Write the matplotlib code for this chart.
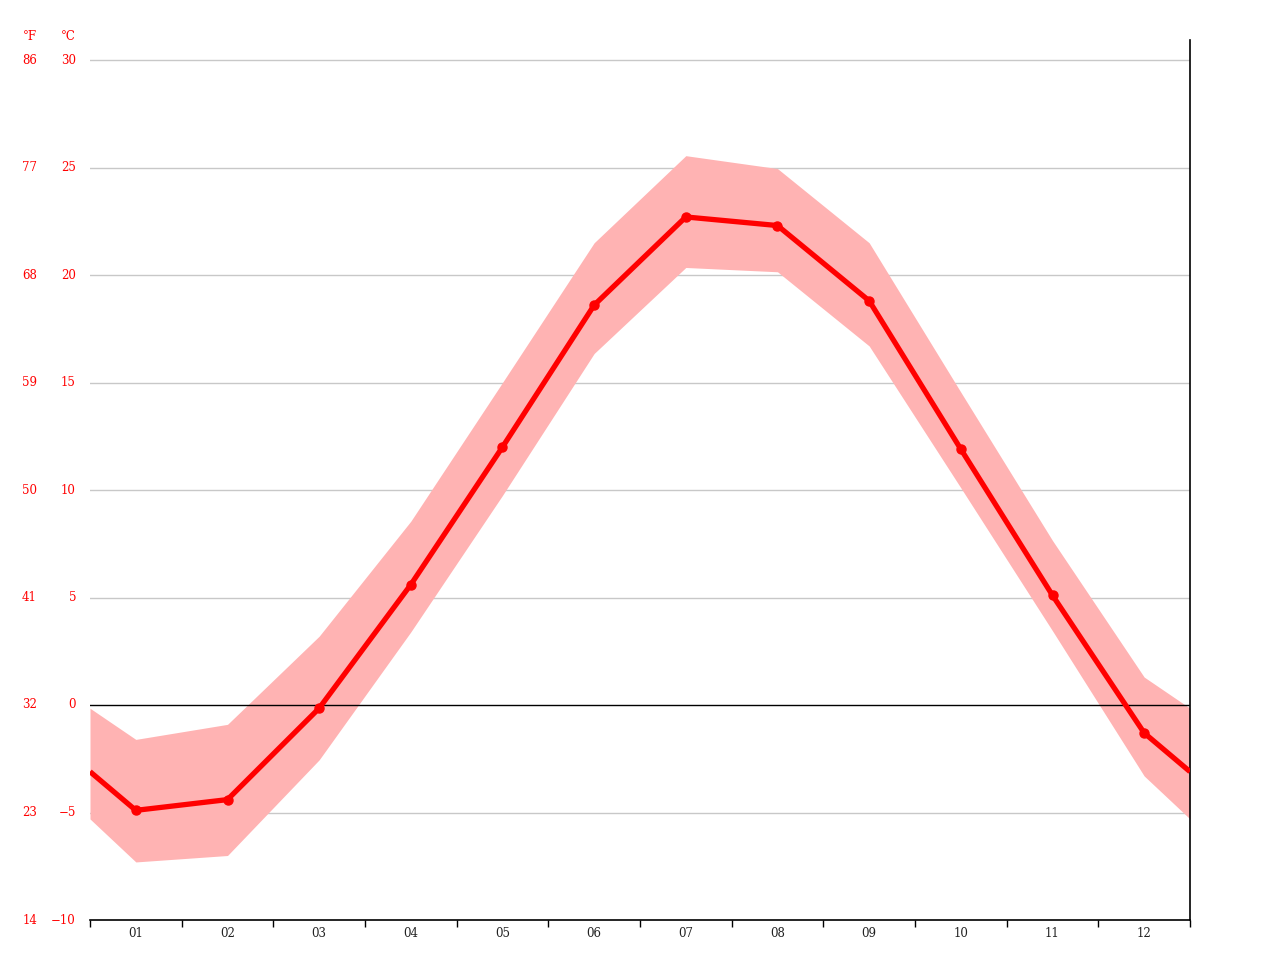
import matplotlib.pyplot as plt
from matplotlib.transforms import blended_transform_factory

months = ['01', '02', '03', '04', '05', '06', '07', '08', '09', '10', '11', '12']
t_mean = [-4.9, -4.4, -0.15, 5.6, 12.0, 18.6, 22.7, 22.3, 18.8, 11.9, 5.1, -1.3]
t_max = [-1.6, -0.9, 3.2, 8.55, 15.0, 21.5, 25.55, 24.95, 21.5, 14.55, 7.65, 1.3]
t_min = [-7.3, -7.0, -2.55, 3.4, 9.75, 16.35, 20.35, 20.15, 16.7, 10.1, 3.45, -3.3]
# values at the year edges (between Dec and Jan)
edge_mean = -3.1
edge_max = -0.15
edge_min = -5.3

c_ticks = [-10, -5, 0, 5, 10, 15, 20, 25, 30]
f_ticks = [14, 23, 32, 41, 50, 59, 68, 77, 86]

plt.rcParams['font.family'] = ['DejaVu Serif']

fig = plt.figure(figsize=(12.8, 9.6), dpi=100)
ax = fig.add_axes([90 / 1280, 40 / 960, 1100 / 1280, 880 / 960])

x = [0.5] + list(range(1, 13)) + [12.5]
ymean = [edge_mean] + t_mean + [edge_mean]
ymax = [edge_max] + t_max + [edge_max]
ymin = [edge_min] + t_min + [edge_min]

ax.set_xlim(0.5, 12.5)
ax.set_ylim(-10, 30 + 20 / 21.5)

# grid
for v in c_ticks[1:]:
    if v != 0:
        ax.axhline(v, color='#c8c8c8', lw=1, zorder=1)

ax.fill_between(x, ymin, ymax, color='#ffb3b3', lw=0, zorder=2)
ax.axhline(0, color='black', lw=1, zorder=3)
ax.plot(x, ymean, color='#ff0000', lw=3.8, zorder=4, solid_capstyle='butt')
ax.plot(range(1, 13), t_mean, 'o', color='#ff0000', ms=6.5, zorder=5)

for key, spine in ax.spines.items():
    if key in ('top', 'left'):
        spine.set_visible(False)
    else:
        spine.set_color('black')
        spine.set_linewidth(1.2)

ax.set_yticks([])
ax.set_xticks([i + 0.5 for i in range(0, 13)])
ax.set_xticklabels([])
ax.set_xticks(range(1, 13), minor=True)
ax.set_xticklabels(months, minor=True)
ax.tick_params(axis='x', which='major', length=5, width=1, color='black')
ax.tick_params(axis='x', which='minor', length=0, pad=5, labelsize=8.5, labelcolor='#222222')

# °C and °F labels on the left
trans = blended_transform_factory(fig.transFigure, ax.transData)
for c, f in zip(c_ticks, f_ticks):
    ax.text(76 / 1280, c, str(c).replace('-', '\u2212'), transform=trans, ha='right', va='center',
            color='#ff0000', fontsize=8.5)
    ax.text(37 / 1280, c, str(f), transform=trans, ha='right', va='center',
            color='#ff0000', fontsize=8.5)

fig.text(37 / 1280, 1 - 36 / 960, '°F', ha='right', va='center', color='#ff0000', fontsize=8.5)
fig.text(76 / 1280, 1 - 36 / 960, '°C', ha='right', va='center', color='#ff0000', fontsize=8.5)

fig.savefig('out.png', dpi=100, facecolor='white')
